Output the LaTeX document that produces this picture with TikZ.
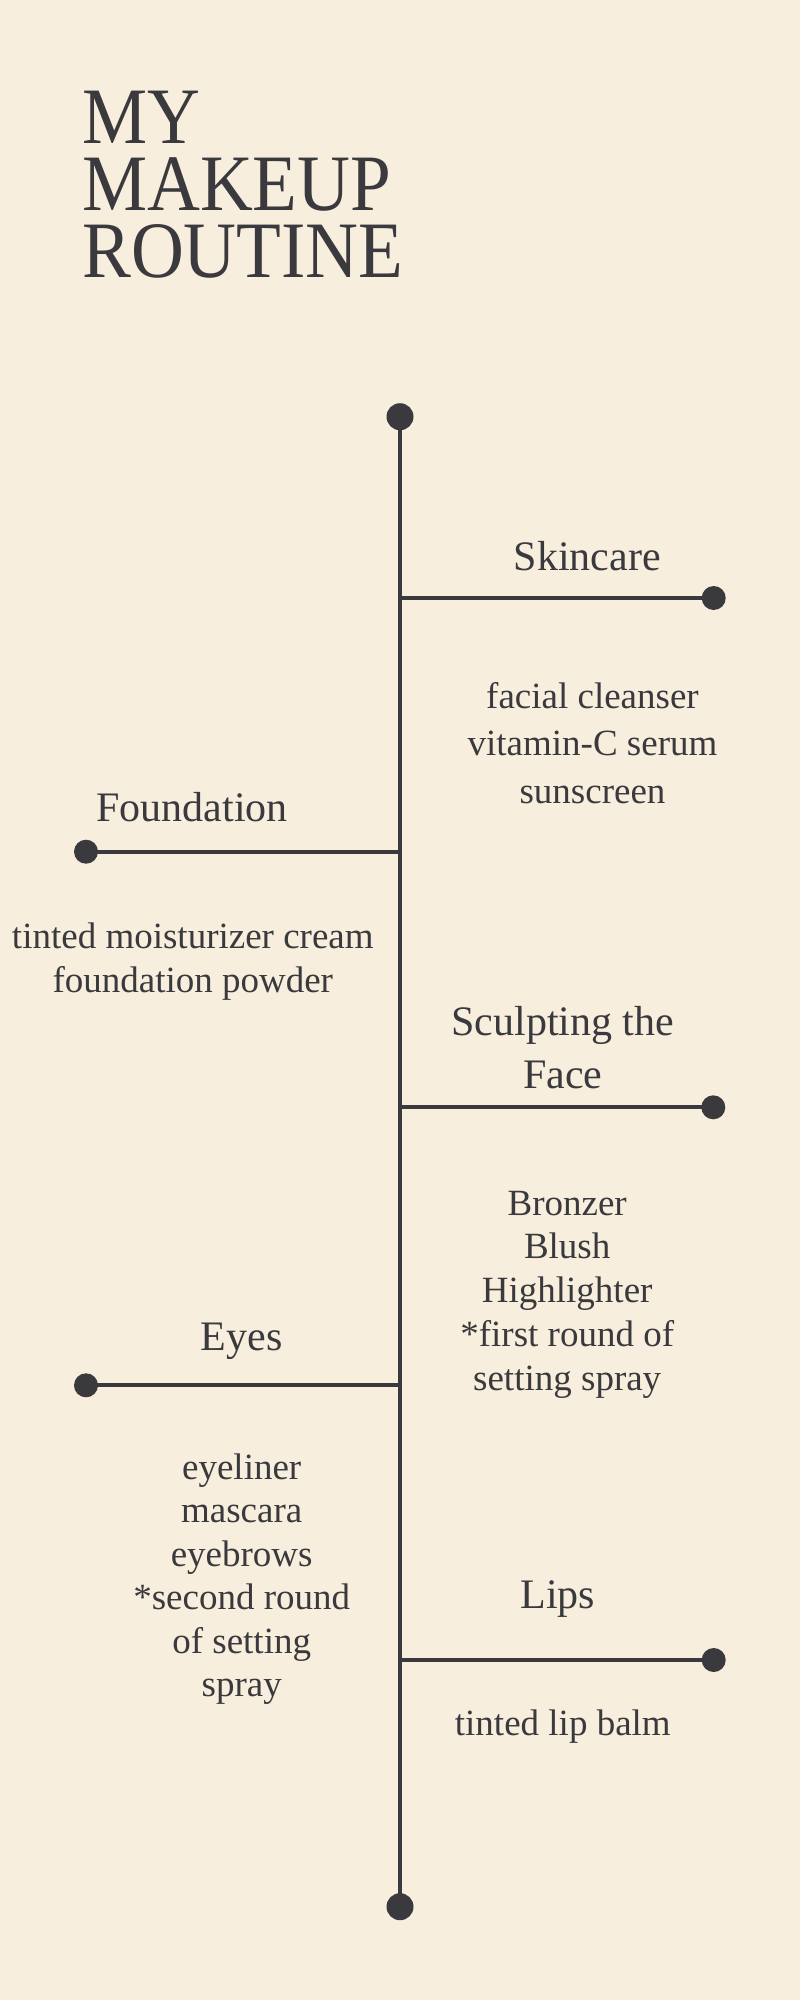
\documentclass[tikz,border=0pt]{standalone}
\usepackage{fontspec}
\usepackage{graphicx}
\newfontfamily\bodyfont{Liberation Serif}
\definecolor{ink}{HTML}{3A393D}
\definecolor{paper}{HTML}{F7EEDD}
\newcommand{\lines}[1]{\begin{tabular}[t]{@{}c@{}}#1\end{tabular}}
\newcommand{\titleblock}{\scalebox{0.915}[1]{\vtop{\baselineskip=67pt\lineskiplimit=-200pt\lineskip=0pt
  \hbox{MY}\hbox{MAKEUP}\hbox{ROUTINE}}}}
\begin{document}
\begin{tikzpicture}[x=1pt,y=-1pt,
  branch/.style={draw=ink,line width=4pt},
  enddot/.style={circle,fill=ink,draw=none,inner sep=0pt,minimum size=24pt},
  bigdot/.style={enddot,minimum size=27pt},
  head/.style={anchor=base,inner sep=0pt,text=ink,font=\bodyfont\fontsize{42}{53}\selectfont},
  body/.style={anchor=base,inner sep=0pt,text=ink,font=\bodyfont\fontsize{37}{44}\selectfont},
  titletext/.style={anchor=base west,inner sep=0pt,text=ink,
    font=\bodyfont\fontsize{80}{67}\selectfont}]
\fill[paper] (0,0) rectangle (800,2000);
\useasboundingbox (0,0) rectangle (800,2000);

% title
\node[titletext] (title) at (82,143.3) {\titleblock};

% timeline
\node[bigdot] (top) at (400,416.7) {};
\node[bigdot] (bottom) at (400,1906.7) {};
\coordinate (jS) at (400,598);
\coordinate (jF) at (400,851.7);
\coordinate (jC) at (400,1107.3);
\coordinate (jE) at (400,1385.3);
\coordinate (jL) at (400,1660);
\node[enddot] (eS) at (713.7,598) {};
\node[enddot] (eF) at (86,851.7) {};
\node[enddot] (eC) at (713.3,1107.3) {};
\node[enddot] (eE) at (86,1385.3) {};
\node[enddot] (eL) at (713.7,1660) {};
\draw[branch] (top.center) -- (bottom.center);
\draw[branch] (jS) -- (eS.center);
\draw[branch] (jF) -- (eF.center);
\draw[branch] (jC) -- (eC.center);
\draw[branch] (jE) -- (eE.center);
\draw[branch] (jL) -- (eL.center);

% Skincare
\node[head] (hS) at (587.2,570.7) {Skincare};
\node[body,font=\bodyfont\fontsize{37}{47.6}\selectfont] (bS) at (592.5,708)
  {\lines{facial cleanser\\vitamin-C serum\\sunscreen}};

% Foundation
\node[head] (hF) at (192,821.7) {Foundation};
\node[body] (bF) at (192.8,948.3)
  {\lines{tinted moisturizer cream\\foundation powder}};

% Sculpting
\node[head] (hC) at (562.8,1035) {\lines{Sculpting the\\Face}};
\node[body,font=\bodyfont\fontsize{37}{43.75}\selectfont] (bC) at (567.2,1215)
  {\lines{Bronzer\\Blush\\Highlighter\\{*}first round of\\setting spray}};

% Eyes
\node[head] (hE) at (241.7,1350.7) {Eyes};
\node[body,font=\bodyfont\fontsize{37}{43.5}\selectfont] (bE) at (241.7,1479)
  {\lines{eyeliner\\mascara\\eyebrows\\{*}second round\\of setting\\spray}};

% Lips
\node[head] (hL) at (557.7,1608.3) {Lips};
\node[body] (bL) at (562.8,1735) {tinted lip balm};
\end{tikzpicture}
\end{document}
